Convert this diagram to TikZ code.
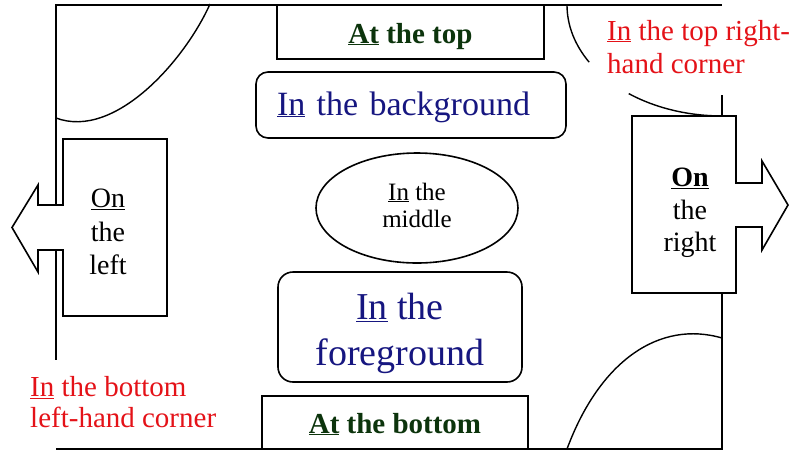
\documentclass[tikz,border=0pt]{standalone}
\usepackage{fontspec}
\setmainfont{Liberation Serif}
\usetikzlibrary{shapes.geometric}
\definecolor{redtxt}{RGB}{228,18,24}
\definecolor{bluetxt}{RGB}{22,22,128}
\definecolor{greentxt}{RGB}{12,52,12}
\tikzset{
  wall/.style={line width=1.4pt},
  boxline/.style={draw, line width=1.6pt, fill=white},
  outline/.style={line width=1.6pt},
  greenlbl/.style={font=\fontsize{29}{34}\selectfont\bfseries, text=greentxt},
  redlbl/.style={align=left, inner sep=0pt, text=redtxt, anchor=west},
  blacklbl/.style={align=center, inner sep=0pt, font=\fontsize{28}{33.5}\selectfont},
}
\begin{document}
\begin{tikzpicture}[x=1pt, y=-1pt]
\useasboundingbox (0,0) rectangle (800,467);

% walls
\draw[wall] (56,205) -- (56,5) -- (722,5);
\draw[wall] (56,250) -- (56,360);
\draw[wall] (56,449) -- (722,449) -- (722,293);
\draw[wall] (722,95) -- (722,116);

% door arcs
\draw[wall] (210,4) .. controls (185,60) and (115,140) .. (56,118);
\draw[wall] (567,5) arc[start angle=180, end angle=149, x radius=155, y radius=111];
\draw[wall] (628.7,93.6) arc[start angle=127, end angle=90, x radius=155, y radius=111];
\draw[wall] (567,449) .. controls (600,360) and (660,320) .. (722,338);

% boxes
\node[boxline, greenlbl, minimum width=267, minimum height=54, inner sep=0pt,
      text height=22pt, text depth=0pt] (top) at (410.5,32) {\underline{At} the top};

\node[boxline, rounded corners=12pt, minimum width=310, minimum height=66,
      inner xsep=21pt, inner ysep=0pt, text width=268pt, align=left,
      text height=23pt, text depth=3pt, font=\fontsize{34}{40}\selectfont,
      text=bluetxt] (bg) at (411,105) {\underline{In} the background};

\node[ellipse, draw, line width=1.6pt, minimum width=202, minimum height=110,
      inner sep=0pt, align=center, font=\fontsize{25}{27}\selectfont]
      (mid) at (417,208) {\underline{In} the\\middle\rule[-6pt]{0pt}{6pt}};

\node[boxline, rounded corners=15pt, minimum width=244, minimum height=110,
      inner sep=0pt, align=center, font=\fontsize{38}{46}\selectfont,
      text=bluetxt] (fg) at (400,327) {\rule{0pt}{40pt}\underline{In} the\\foreground};

\node[boxline, greenlbl, minimum width=266, minimum height=53, inner sep=0pt,
      text height=21pt, text depth=0pt] (bot) at (395,422.5) {\underline{At} the bottom};

% left arrow box
\draw[outline] (63,139) -- (167,139) -- (167,316) -- (63,316) -- (63,250)
  -- (38,250) -- (38,272) -- (12,227.5) -- (38,185) -- (38,205) -- (63,205) -- cycle;
\node[blacklbl] (ltext) at (108,232) {\underline{On}\\the\\left};

% right arrow box
\draw[outline] (632,116) -- (736,116) -- (736,183) -- (762,183) -- (762,161)
  -- (788,205) -- (762,250) -- (762,227) -- (736,227) -- (736,293) -- (632,293) -- cycle;
\node[blacklbl, font=\fontsize{28}{32.5}\selectfont] (rtext) at (690,213) {\textbf{\underline{On}}\\the\\right};

% corner labels
\node[redlbl, font=\fontsize{29}{33}\selectfont] (tr) at (607,46.6) {\underline{In} the top right-\\hand corner};
\node[redlbl, font=\fontsize{29}{31}\selectfont] (bl) at (30,402.5) {\underline{In} the bottom\\left-hand corner};
\end{tikzpicture}
\end{document}
